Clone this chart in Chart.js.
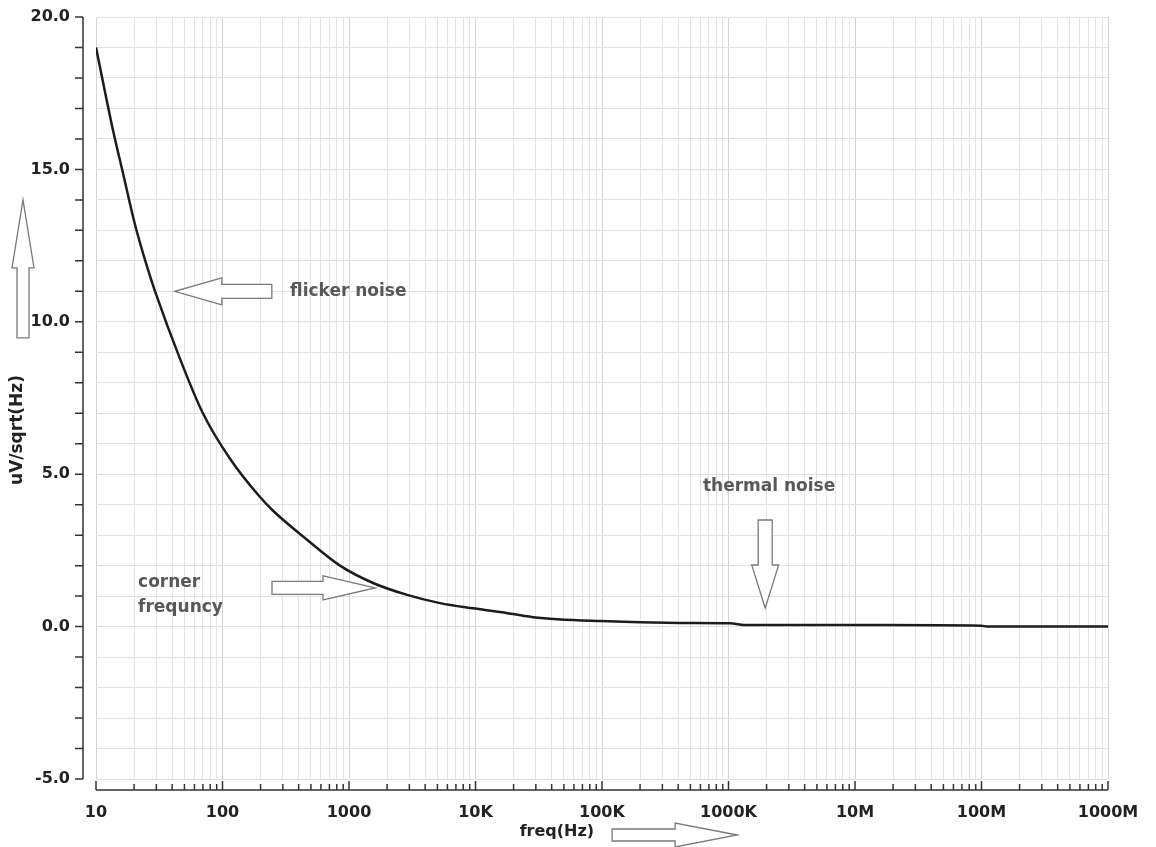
<!DOCTYPE html>
<html lang="en">
<head>
<meta charset="UTF-8" />
<title>Noise density vs frequency</title>
<script src="https://cdn.jsdelivr.net/npm/chart.js@4.4.0/dist/chart.umd.min.js"></script>
<style>
  html, body { margin: 0; background: #fff; }
  #wrap { width: 1156px; height: 847px; }
</style>
</head>
<body>
<div id="wrap"><canvas id="noiseChart"></canvas></div>
<script>
// values (Hz, uV/sqrt(Hz))
const freqs = [10, 13.6, 16.3, 20.3, 25.8, 29.3, 46, 70, 115, 198, 251, 466, 849,
  1550, 2880, 5240, 9550, 15600, 28500, 96400, 414000, 1020000, 1390000, 15800000,
  100000000, 110000000, 1000000000];
const noise = [19.0, 16.3, 14.9, 13.2, 11.7, 11.0, 8.8, 7.0, 5.5, 4.25, 3.8, 2.85, 2.0,
  1.43, 1.04, 0.77, 0.6, 0.48, 0.31, 0.18, 0.12, 0.11, 0.05, 0.05,
  0.03, 0.0, 0.0];

const decades = [10, 1e2, 1e3, 1e4, 1e5, 1e6, 1e7, 1e8, 1e9];
const decadeLabels = ['10', '100', '1000', '10K', '100K', '1000K', '10M', '100M', '1000M'];

// annotation text and arrows, anchored in data space
const notes = [
  { text: 'flicker noise', f: 342, v: 11.0 },
  { text: 'corner', f: 21.5, v: 1.43 },
  { text: 'frequncy', f: 21.5, v: 0.61 },
  { text: 'thermal noise', f: 628000, v: 4.58 }
];
const arrows = [
  { f: 42, v: 11.0, dir: 'left', len: 97, head: 47, hw: 13.5, sw: 7 },
  { f: 1605, v: 1.27, dir: 'right', len: 103, head: 52, hw: 12, sw: 6.5 },
  { f: 1950000, v: 0.61, dir: 'down', len: 88, head: 43, hw: 13.5, sw: 7 }
];

const xTicks = [];
for (let d = 0; d < decades.length - 1; d++) {
  for (let k = 1; k < 10; k++) xTicks.push(decades[d] * k);
}
xTicks.push(decades[decades.length - 1]);

const isDecade = v => decades.some(d => Math.abs(d - v) / d < 1e-9);

const font = 'DejaVu Sans';

function blockArrow(ctx, tx, ty, dir, len, head, hw, sw) {
  // draw pointing to the right, then rotate
  const rot = { right: 0, left: Math.PI, down: Math.PI / 2, up: -Math.PI / 2 }[dir];
  ctx.save();
  ctx.translate(tx, ty);
  ctx.rotate(rot);
  ctx.beginPath();
  ctx.moveTo(0, 0);
  ctx.lineTo(-head, -hw);
  ctx.lineTo(-head, -sw);
  ctx.lineTo(-len, -sw);
  ctx.lineTo(-len, sw);
  ctx.lineTo(-head, sw);
  ctx.lineTo(-head, hw);
  ctx.closePath();
  ctx.fillStyle = '#fff';
  ctx.fill();
  ctx.strokeStyle = '#7a7a7a';
  ctx.lineWidth = 1.3;
  ctx.stroke();
  ctx.restore();
}

const extras = {
  id: 'extras',
  afterDraw(chart) {
    const { ctx, chartArea: a, scales: { x, y } } = chart;
    ctx.save();

    // y axis ruler
    const ax = a.left - 13;
    ctx.strokeStyle = '#333';
    ctx.lineWidth = 1.5;
    ctx.beginPath();
    ctx.moveTo(ax, y.getPixelForValue(20));
    ctx.lineTo(ax, y.getPixelForValue(-5));
    for (let v = -5; v <= 20; v++) {
      const py = y.getPixelForValue(v);
      ctx.moveTo(ax - 8, py);
      ctx.lineTo(ax, py);
    }
    ctx.stroke();

    // x axis ruler
    const ay = a.bottom + 11;
    ctx.beginPath();
    ctx.moveTo(x.getPixelForValue(10), ay);
    ctx.lineTo(x.getPixelForValue(1e9), ay);
    xTicks.forEach(t => {
      const px = x.getPixelForValue(t);
      ctx.moveTo(px, ay);
      ctx.lineTo(px, ay - (isDecade(t) ? 9 : 6));
    });
    ctx.stroke();

    // axis titles
    ctx.fillStyle = '#222';
    ctx.font = 'bold 16px ' + font;
    ctx.textAlign = 'center';
    ctx.textBaseline = 'middle';
    ctx.fillText('freq(Hz)', x.getPixelForValue(44000), a.bottom + 53);
    ctx.save();
    ctx.font = 'bold 17px ' + font;
    ctx.translate(a.left - 78, y.getPixelForValue(6.45));
    ctx.rotate(-Math.PI / 2);
    ctx.fillText('uV/sqrt(Hz)', 0, 0);
    ctx.restore();

    // notes
    ctx.fillStyle = '#585858';
    ctx.font = 'bold 17px ' + font;
    ctx.textAlign = 'left';
    notes.forEach(n => ctx.fillText(n.text, x.getPixelForValue(n.f), y.getPixelForValue(n.v)));

    arrows.forEach(r => blockArrow(ctx, x.getPixelForValue(r.f), y.getPixelForValue(r.v),
      r.dir, r.len, r.head, r.hw, r.sw));
    // arrows beside the axes
    blockArrow(ctx, a.left - 73, y.getPixelForValue(14.0), 'up', 138, 68, 11, 6);
    blockArrow(ctx, x.getPixelForValue(1170000), a.bottom + 56, 'right', 125, 62, 12, 6);

    ctx.restore();
  }
};

new Chart(document.getElementById('noiseChart'), {
  type: 'line',
  plugins: [extras],
  data: {
    labels: freqs,
    datasets: [{
      data: freqs.map((f, i) => ({ x: f, y: noise[i] })),
      borderColor: '#1c1c1c',
      borderWidth: 2.5,
      pointRadius: 0,
      fill: false,
      cubicInterpolationMode: 'monotone'
    }]
  },
  options: {
    responsive: true,
    maintainAspectRatio: false,
    animation: false,
    layout: { padding: { top: 17, right: 48, left: 0, bottom: 0 } },
    plugins: { legend: { display: false }, tooltip: { enabled: false } },
    scales: {
      x: {
        type: 'logarithmic',
        min: 10,
        max: 1e9,
        afterBuildTicks: scale => { scale.ticks = xTicks.map(v => ({ value: v })); },
        afterFit: scale => {
          scale.height = 68;
          scale.paddingLeft = 0;
          scale.paddingRight = 0;
        },
        border: { display: false },
        grid: {
          drawTicks: false,
          color: c => (c.tick && isDecade(c.tick.value)) ? '#d4d4d4' : '#e4e4e4',
          lineWidth: 1
        },
        ticks: {
          autoSkip: false,
          maxRotation: 0,
          padding: 24,
          color: '#222',
          font: { family: font, size: 16, weight: 'bold' },
          callback: v => {
            const i = decades.findIndex(d => Math.abs(d - v) / d < 1e-9);
            return i >= 0 ? decadeLabels[i] : '';
          }
        }
      },
      y: {
        min: -5,
        max: 20,
        afterFit: scale => {
          scale.width = 96;
          scale.paddingTop = 0;
          scale.paddingBottom = 0;
        },
        border: { display: false },
        grid: { drawTicks: false, color: '#e0e0e0', lineWidth: 1 },
        ticks: {
          stepSize: 1,
          autoSkip: false,
          padding: 26,
          color: '#222',
          font: { family: font, size: 16, weight: 'bold' },
          callback: v => (v % 5 === 0 ? v.toFixed(1) : '')
        }
      }
    }
  }
});
</script>
</body>
</html>
